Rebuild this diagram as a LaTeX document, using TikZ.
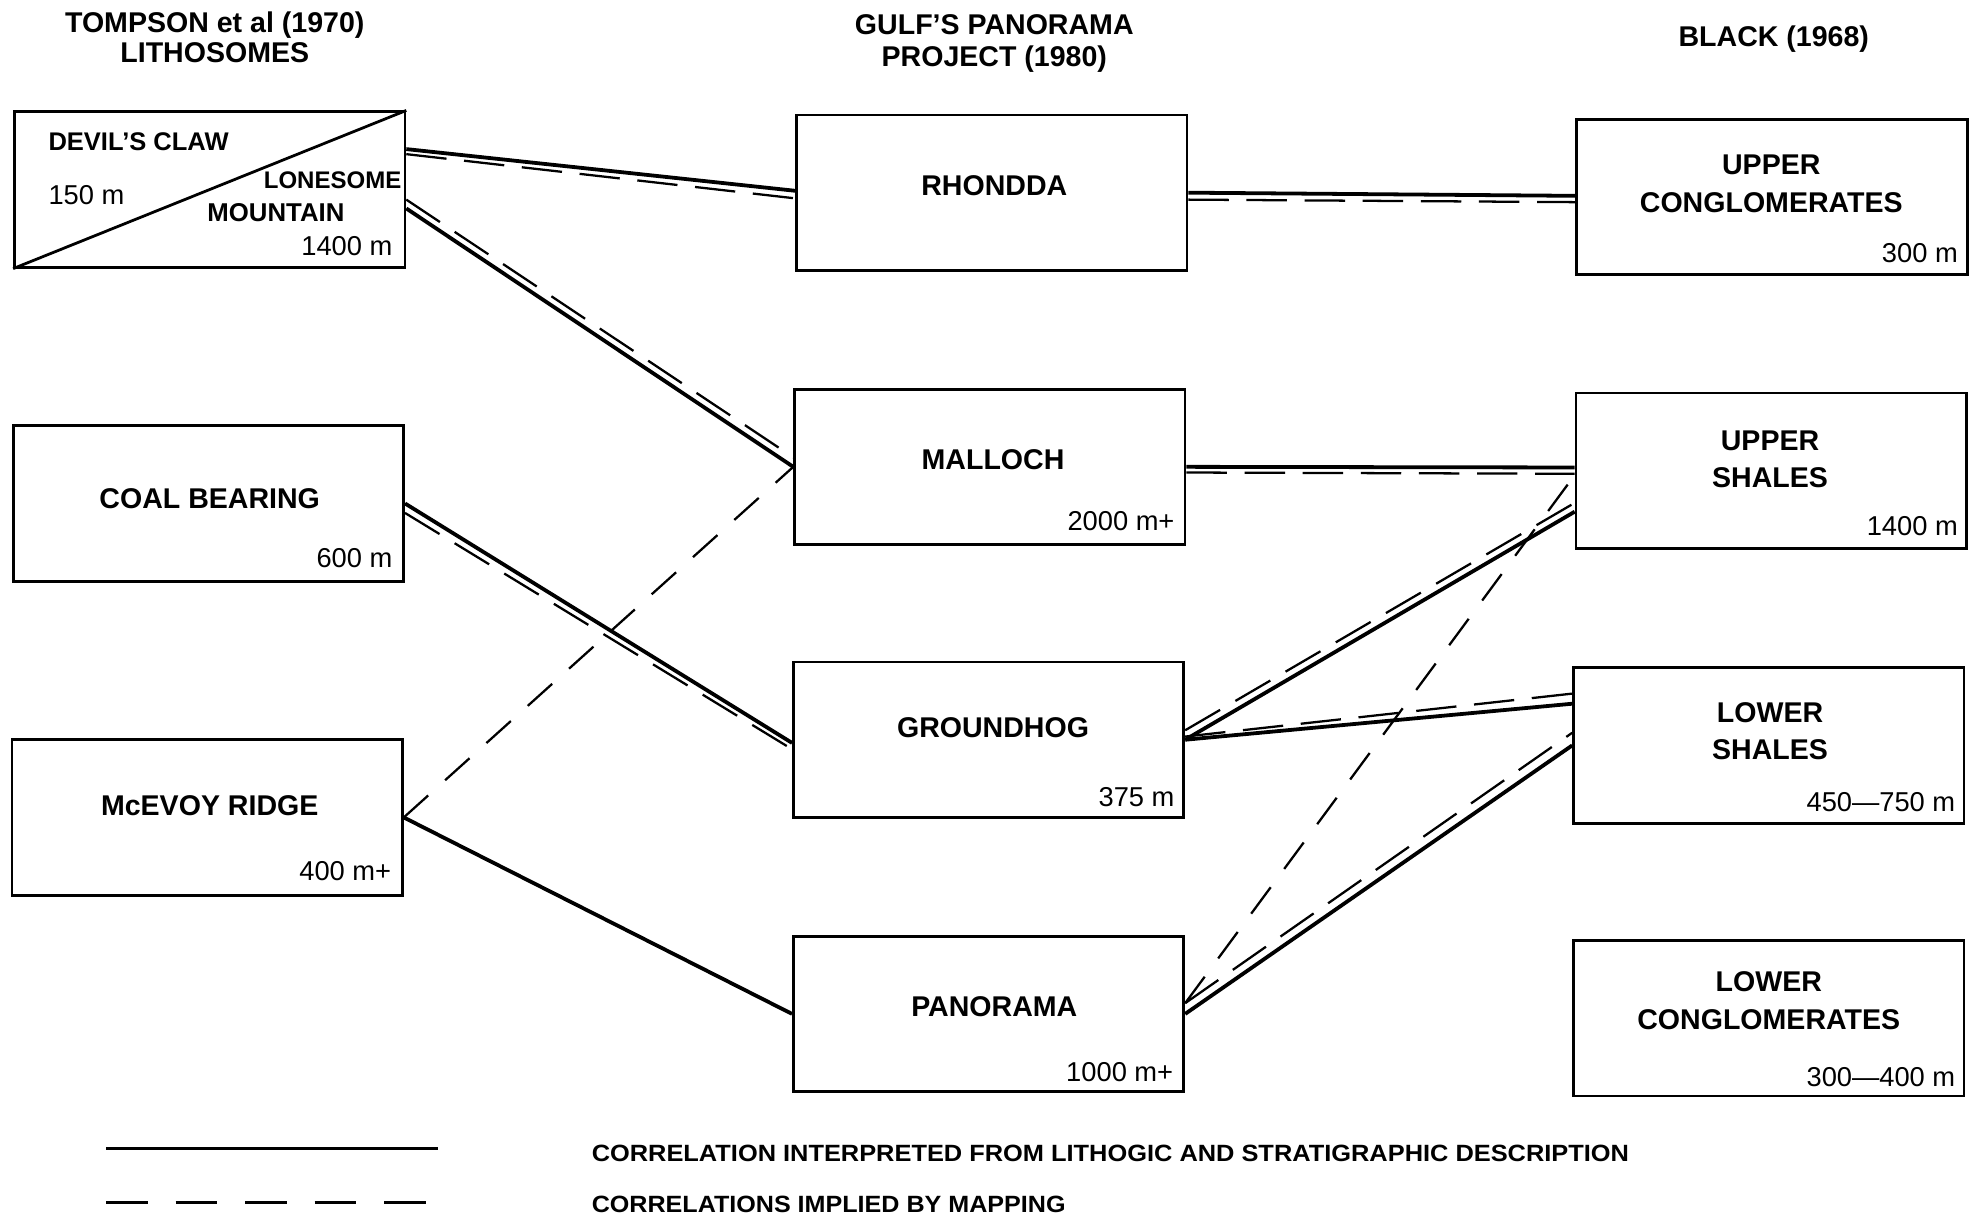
\documentclass[tikz,border=0pt]{standalone}
\usepackage{fontspec}
\setmainfont{Liberation Sans}
\usepackage{graphicx}
\usetikzlibrary{calc}
\tikzset{
 box/.style={draw, line width=1.1pt, minimum width=154.5pt, minimum height=61.5pt, inner sep=0pt},
 lab/.style={font=\fontsize{11.3}{14.75}\selectfont\bfseries, align=center, inner sep=0pt},
 smalllab/.style={font=\fontsize{9.8}{12}\selectfont\bfseries, inner sep=0pt},
 num/.style={font=\fontsize{10.8}{13}\selectfont, inner sep=0pt, anchor=base east},
 sol/.style={line width=1.5pt},
 dsh/.style={line width=0.9pt, dash pattern=on 16pt off 7pt},
 dshs/.style={line width=0.9pt, dash pattern=on 13pt off 9pt},
 legtext/.style={inner sep=0pt, anchor=base west},
}
\begin{document}
\begin{tikzpicture}[x=0.5pt,y=-0.5pt]
\useasboundingbox (0,0) rectangle (1568,966);

% headers
\node[lab, font=\fontsize{11.3}{11.9}\selectfont\bfseries] (h1) at (170,29.5) {TOMPSON et al (1970)\\LITHOSOMES};
\node[lab, font=\fontsize{11.3}{12.6}\selectfont\bfseries] (h2) at (787,34.5) {GULF’S PANORAMA\\PROJECT (1980)};
\node[lab] (h3) at (1404,31) {BLACK (1968)};

% left column
\node[box] (dc) at (166,150) {};
\draw[line width=1.1pt] (dc.south west) -- (dc.north east);
\node[smalllab, font=\fontsize{10.1}{12}\selectfont\bfseries, anchor=base west] (dct) at (38,119) {DEVIL’S CLAW};
\node[num, anchor=base west] (dcn) at (38,162) {150 m};
\node[smalllab, font=\fontsize{9.5}{12}\selectfont\bfseries, anchor=base east] (lmt1) at (318,149) {LONESOME};
\node[smalllab, font=\fontsize{10.2}{12}\selectfont\bfseries, anchor=base east] (lmt2) at (273,175.5) {MOUNTAIN};
\node[num] (lmn) at (311,202) {1400 m};

\node[box] (cb) at (165,398.5) {};
\node[lab, anchor=base] (cbt) at (166,402.5) {COAL BEARING};
\node[num] (cbn) at (311,449) {600 m};

\node[box] (mr) at (164,647) {};
\node[lab, anchor=base] (mrt) at (166,645.5) {McEVOY RIDGE};
\node[num] (mrn) at (310,697) {400 m+};

% middle column
\node[box] (rh) at (785,152.5) {};
\node[lab, anchor=base] (rht) at (787,154.5) {RHONDDA};

\node[box] (ma) at (783.5,369.5) {};
\node[lab, anchor=base] (mat) at (786,371.5) {MALLOCH};
\node[num] (man) at (930,420) {2000 m+};

\node[box] (gr) at (782.5,585.5) {};
\node[lab, anchor=base] (grt) at (786,583.5) {GROUNDHOG};
\node[num] (grn) at (930,638) {375 m};

\node[box] (pa) at (782.5,802.5) {};
\node[lab, anchor=base] (pat) at (787,804.5) {PANORAMA};
\node[num] (pan) at (929,856) {1000 m+};

% right column
\node[box] (uc) at (1402.5,156) {};
\node[lab] (uct) at (1402,145.5) {UPPER\\CONGLOMERATES};
\node[num] (ucn) at (1550,208) {300 m};

\node[box] (us) at (1402,372.5) {};
\node[lab] (ust) at (1401,363.5) {UPPER\\SHALES};
\node[num] (usn) at (1550,424) {1400 m};

\node[box] (ls) at (1400,590) {};
\node[lab] (lst) at (1401,579) {LOWER\\SHALES};
\node[num] (lsn) at (1548,642) {450—750 m};

\node[box] (lc) at (1400,806) {};
\node[lab] (lct) at (1400,792) {LOWER\\CONGLOMERATES};
\node[num] (lcn) at (1548,860) {300—400 m};

% connectors
\draw[sol] ([yshift=16pt]dc.east) -- ([yshift=0.75pt]rh.west);
\draw[dsh] ([yshift=14pt]dc.east) -- ([yshift=-2.25pt]rh.west);
\draw[sol] ([yshift=-7.5pt]dc.east) -- (ma.west);
\draw[dsh] ([yshift=-4pt]dc.east) -- ([yshift=3.75pt]ma.west);
\draw[sol] (cb.east) -- ([yshift=-1.25pt]gr.west);
\draw[dsh] ([yshift=-3.75pt]cb.east) -- ([yshift=-3.75pt]gr.west);
\draw[sol] (mr.east) -- (pa.west);
\draw[dshs] (mr.east) -- (ma.west);

\draw[sol] (rh.east) -- ([yshift=0.5pt]uc.west);
\draw[dsh] ([yshift=-2.75pt]rh.east) -- ([yshift=-2pt]uc.west);
\draw[sol] (ma.east) -- ([yshift=1.25pt]us.west);
\draw[dsh] ([yshift=-2.25pt]ma.east) -- ([yshift=-1.25pt]us.west);
\draw[sol] (gr.east) -- ([yshift=-16.25pt]us.west);
\draw[dsh] ([yshift=3.75pt]gr.east) -- ([yshift=-12.75pt]us.west);
\draw[sol] (gr.east) -- ([yshift=16.5pt]ls.west);
\draw[dsh] ([yshift=1.25pt]gr.east) -- ([yshift=20.5pt]ls.west);
\draw[sol] (pa.east) -- (ls.west);
\draw[dsh] ([yshift=4.25pt]pa.east) -- ([yshift=5pt]ls.west);
\draw[dshs] ([yshift=4.25pt]pa.east) -- ([yshift=-1.75pt]us.west);

% legend
\coordinate (ls1) at (84,909);
\coordinate (ls2) at (347,909);
\coordinate (ld1) at (84,952);
\coordinate (ld2) at (337,952);
\draw[sol] (ls1) -- (ls2);
\draw[line width=1.1pt, dash pattern=on 16.5pt off 11pt] (ld1) -- (ld2);
\node[legtext] (lt1) at (468,919) {\resizebox{410.5pt}{6.5pt}{\bfseries CORRELATION INTERPRETED FROM LITHOGIC AND STRATIGRAPHIC DESCRIPTION}};
\node[legtext] (lt2) at (468,960) {\resizebox{187.5pt}{6.5pt}{\bfseries CORRELATIONS IMPLIED BY MAPPING}};
\end{tikzpicture}
\end{document}
